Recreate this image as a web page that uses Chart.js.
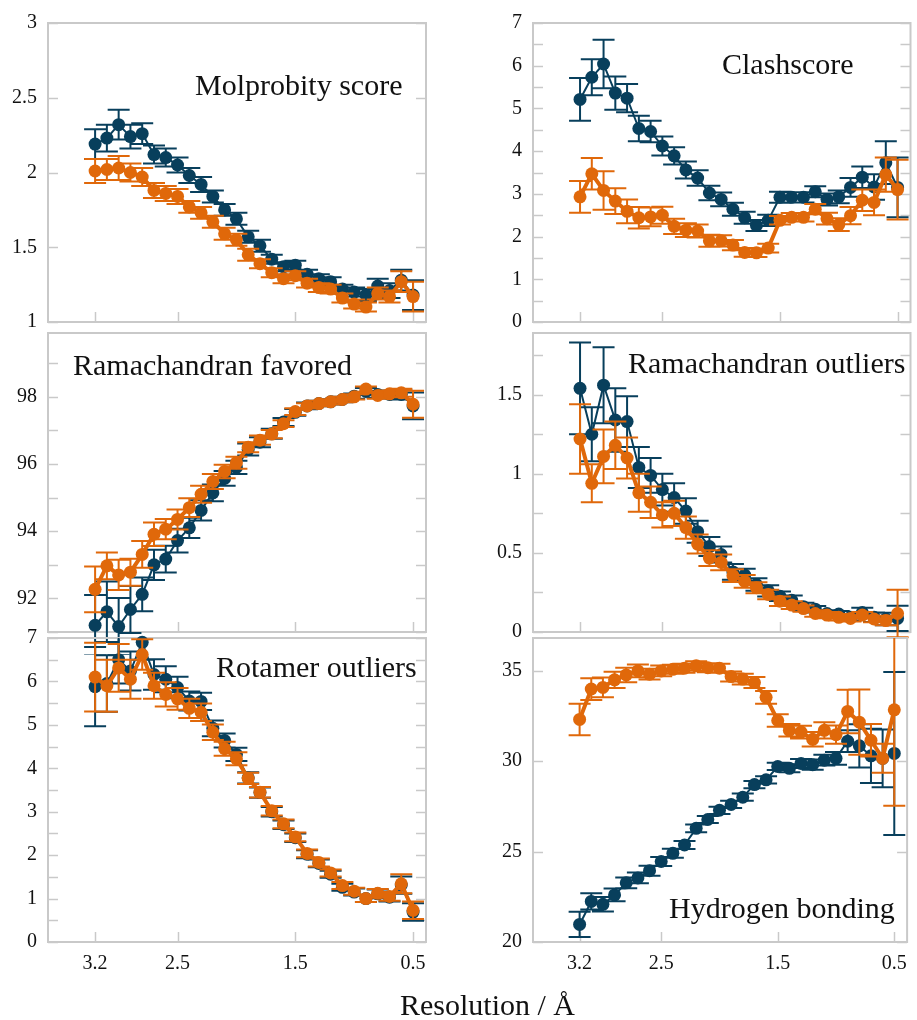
<!DOCTYPE html>
<html>
<head>
<meta charset="utf-8">
<script src="https://cdn.jsdelivr.net/npm/chart.js@4"></script>
<style>
  body { margin: 0; background: #fff; }
  #wrap { position: relative; width: 917px; height: 1020px; overflow: hidden; }
  canvas { position: absolute; }
  .title { position: absolute; font-family: "Liberation Serif", serif; font-size: 30px; line-height: 30px; color: #111; white-space: nowrap; }
</style>
</head>
<body>
<div id="wrap">
  <canvas id="c0"></canvas>
  <canvas id="c1"></canvas>
  <canvas id="c2"></canvas>
  <canvas id="c3"></canvas>
  <canvas id="c4"></canvas>
  <canvas id="c5"></canvas>
  <div class="title" style="left:195px;top:70px">Molprobity score</div>
  <div class="title" style="left:722px;top:49px">Clashscore</div>
  <div class="title" style="left:73px;top:350px">Ramachandran favored</div>
  <div class="title" style="left:628px;top:348px">Ramachandran outliers</div>
  <div class="title" style="left:216px;top:652px">Rotamer outliers</div>
  <div class="title" style="left:669px;top:893px">Hydrogen bonding</div>
  <div class="title" style="left:400px;top:990px">Resolution / Å</div>
</div>
<script>
// resolution bins (Å), plotted high -> low
const resolution = [3.2, 3.1, 3.0, 2.9, 2.8, 2.7, 2.6, 2.5, 2.4, 2.3, 2.2, 2.1, 2.0, 1.9,
                    1.8, 1.7, 1.6, 1.5, 1.4, 1.3, 1.2, 1.1, 1.0, 0.9, 0.8, 0.7, 0.6, 0.5];
const xTickValues = [3.2, 2.5, 1.5, 0.5];

const molprobityBlue = [2.19, 2.23, 2.32, 2.24, 2.26, 2.12, 2.10, 2.05, 1.98, 1.92, 1.84, 1.75, 1.69, 1.57,
                        1.51, 1.42, 1.37, 1.38, 1.32, 1.29, 1.27, 1.22, 1.20, 1.18, 1.24, 1.21, 1.28, 1.18];
const molprobityBlueErr = [0.10, 0.09, 0.10, 0.08, 0.07, 0.06, 0.06, 0.05, 0.05, 0.05, 0.04, 0.04, 0.04, 0.04,
                           0.04, 0.03, 0.03, 0.03, 0.03, 0.03, 0.03, 0.03, 0.03, 0.04, 0.05, 0.05, 0.07, 0.10];
const molprobityOrange = [2.01, 2.02, 2.03, 2.00, 1.97, 1.88, 1.86, 1.84, 1.77, 1.73, 1.67, 1.59, 1.55, 1.45,
                          1.39, 1.33, 1.29, 1.31, 1.26, 1.23, 1.22, 1.16, 1.12, 1.10, 1.19, 1.17, 1.27, 1.17];
const molprobityOrangeErr = [0.08, 0.07, 0.08, 0.06, 0.06, 0.05, 0.05, 0.05, 0.04, 0.04, 0.04, 0.04, 0.04, 0.04,
                             0.03, 0.03, 0.03, 0.03, 0.03, 0.03, 0.03, 0.03, 0.03, 0.03, 0.04, 0.04, 0.07, 0.10];

const clashBlue = [5.21, 5.73, 6.04, 5.36, 5.24, 4.53, 4.46, 4.12, 3.89, 3.56, 3.37, 3.02, 2.87, 2.64,
                   2.44, 2.26, 2.38, 2.92, 2.92, 2.92, 3.05, 2.87, 2.93, 3.15, 3.39, 3.16, 3.73, 3.15];
const clashBlueErr = [0.50, 0.42, 0.57, 0.39, 0.33, 0.30, 0.25, 0.22, 0.20, 0.20, 0.18, 0.17, 0.16, 0.15,
                      0.14, 0.13, 0.13, 0.13, 0.12, 0.12, 0.13, 0.14, 0.15, 0.22, 0.25, 0.30, 0.50, 0.70];
const clashOrange = [2.93, 3.47, 3.08, 2.83, 2.59, 2.44, 2.46, 2.50, 2.24, 2.15, 2.13, 1.90, 1.90, 1.80,
                     1.63, 1.62, 1.73, 2.38, 2.45, 2.45, 2.64, 2.42, 2.28, 2.49, 2.85, 2.80, 3.45, 3.10];
const clashOrangeErr = [0.37, 0.37, 0.45, 0.30, 0.28, 0.25, 0.22, 0.20, 0.18, 0.16, 0.15, 0.14, 0.13, 0.12,
                        0.10, 0.10, 0.10, 0.10, 0.10, 0.10, 0.12, 0.14, 0.15, 0.20, 0.25, 0.30, 0.40, 0.70];

const ramaFavBlue = [91.20, 91.60, 91.16, 91.67, 92.12, 93.00, 93.17, 93.72, 94.10, 94.62, 95.14, 95.57, 95.90, 96.43,
                     96.65, 96.90, 97.25, 97.54, 97.73, 97.80, 97.85, 97.92, 98.02, 98.16, 98.07, 98.07, 98.07, 97.73];
const ramaFavBlueErr = [0.90, 0.90, 0.85, 0.70, 0.50, 0.45, 0.40, 0.35, 0.30, 0.30, 0.25, 0.22, 0.20, 0.18,
                        0.15, 0.15, 0.12, 0.10, 0.10, 0.08, 0.08, 0.08, 0.08, 0.10, 0.10, 0.12, 0.15, 0.40];
const ramaFavOrange = [92.27, 92.97, 92.70, 92.78, 93.31, 93.91, 94.06, 94.35, 94.70, 95.10, 95.48, 95.78, 96.04, 96.50,
                       96.71, 96.89, 97.20, 97.56, 97.73, 97.80, 97.85, 97.92, 98.00, 98.23, 98.04, 98.09, 98.12, 97.78];
const ramaFavOrangeErr = [0.68, 0.40, 0.45, 0.40, 0.40, 0.35, 0.30, 0.30, 0.28, 0.25, 0.22, 0.20, 0.18, 0.15,
                          0.14, 0.12, 0.10, 0.10, 0.08, 0.08, 0.08, 0.08, 0.08, 0.08, 0.10, 0.10, 0.12, 0.40];

const ramaOutBlue = [1.54, 1.25, 1.56, 1.34, 1.33, 1.04, 0.99, 0.90, 0.85, 0.765, 0.634, 0.54, 0.49, 0.38,
                     0.36, 0.30, 0.26, 0.226, 0.20, 0.16, 0.144, 0.117, 0.113, 0.093, 0.123, 0.093, 0.082, 0.086];
const ramaOutBlueErr = [0.29, 0.17, 0.24, 0.20, 0.16, 0.13, 0.11, 0.10, 0.09, 0.08, 0.07, 0.06, 0.05, 0.05,
                        0.04, 0.04, 0.035, 0.03, 0.03, 0.025, 0.02, 0.02, 0.02, 0.02, 0.03, 0.03, 0.04, 0.08];
const ramaOutOrange = [1.22, 0.94, 1.11, 1.18, 1.10, 0.88, 0.82, 0.74, 0.75, 0.66, 0.556, 0.467, 0.44, 0.356,
                       0.32, 0.28, 0.237, 0.195, 0.17, 0.148, 0.117, 0.107, 0.093, 0.086, 0.107, 0.082, 0.072, 0.117];
const ramaOutOrangeErr = [0.22, 0.12, 0.17, 0.15, 0.13, 0.12, 0.10, 0.08, 0.08, 0.07, 0.06, 0.05, 0.05, 0.04,
                          0.04, 0.035, 0.03, 0.03, 0.025, 0.02, 0.02, 0.02, 0.02, 0.02, 0.02, 0.02, 0.03, 0.15];

const rotamerBlue = [5.88, 5.95, 6.50, 6.24, 6.90, 6.16, 6.05, 5.86, 5.55, 5.54, 4.92, 4.64, 4.32, 3.78,
                     3.44, 3.00, 2.70, 2.40, 2.02, 1.81, 1.56, 1.26, 1.15, 1.00, 1.11, 1.03, 1.31, 0.69];
const rotamerBlueErr = [0.91, 0.65, 0.55, 0.45, 0.40, 0.35, 0.30, 0.25, 0.22, 0.20, 0.18, 0.16, 0.15, 0.13,
                        0.12, 0.11, 0.10, 0.10, 0.09, 0.09, 0.08, 0.08, 0.08, 0.08, 0.10, 0.10, 0.20, 0.20];
const rotamerOrange = [6.10, 5.90, 6.31, 6.05, 6.62, 5.90, 5.70, 5.60, 5.38, 5.29, 4.83, 4.45, 4.22, 3.77,
                       3.45, 3.02, 2.72, 2.42, 2.04, 1.83, 1.59, 1.30, 1.17, 1.00, 1.12, 1.05, 1.34, 0.73];
const rotamerOrangeErr = [0.79, 0.60, 0.55, 0.45, 0.35, 0.30, 0.28, 0.25, 0.22, 0.20, 0.18, 0.16, 0.15, 0.13,
                          0.12, 0.11, 0.10, 0.10, 0.09, 0.09, 0.08, 0.08, 0.08, 0.08, 0.10, 0.10, 0.22, 0.20];

const hbondBlue = [20.97, 22.24, 22.08, 22.60, 23.27, 23.54, 23.94, 24.45, 24.90, 25.36, 26.28, 26.77, 27.28, 27.60,
                   28.00, 28.70, 28.96, 29.70, 29.60, 29.87, 29.80, 30.05, 30.15, 31.10, 30.84, 30.29, 30.15, 30.42];
const hbondBlueErr = [0.70, 0.45, 0.40, 0.35, 0.30, 0.30, 0.28, 0.25, 0.25, 0.22, 0.22, 0.20, 0.20, 0.20,
                      0.20, 0.20, 0.20, 0.20, 0.22, 0.25, 0.28, 0.30, 0.35, 0.60, 1.20, 1.50, 1.60, 4.50];
const hbondOrange = [32.30, 33.98, 34.07, 34.49, 34.76, 34.98, 34.80, 34.98, 35.07, 35.13, 35.26, 35.16, 35.13, 34.67,
                     34.53, 34.34, 33.52, 32.24, 31.70, 31.60, 31.20, 31.70, 31.46, 32.74, 32.15, 31.15, 30.15, 32.83];
const hbondOrangeErr = [0.87, 0.60, 0.55, 0.45, 0.40, 0.35, 0.30, 0.30, 0.25, 0.25, 0.25, 0.25, 0.25, 0.28,
                        0.30, 0.30, 0.35, 0.35, 0.35, 0.35, 0.40, 0.45, 0.50, 1.20, 1.80, 0.90, 0.80, 5.30];

const BLUE = '#083f5c';
const ORANGE = '#e0680a';
const FRAME = '#c9c9c9';
const FONT = 'Liberation Serif';

// box + inward ticks + error bars
const framePlugin = {
    id: 'frame',
    beforeDatasetsDraw(chart) {
        const {ctx, chartArea: a, scales} = chart;
        const p = chart.options.plugins.frame;
        ctx.save();
        ctx.strokeStyle = FRAME;
        ctx.lineWidth = 1.5;
        ctx.beginPath();
        for (let v = Math.ceil(p.yMin / p.yStep - 1e-9) * p.yStep; v <= p.yMax + 1e-9; v += p.yStep) {
            const y = Math.round(scales.y.getPixelForValue(v)) + 0.5;
            ctx.moveTo(a.left, y); ctx.lineTo(a.left + 10, y);
            ctx.moveTo(a.right, y); ctx.lineTo(a.right - 10, y);
        }
        xTickValues.forEach(v => {
            const x = Math.round(scales.x.getPixelForValue(v)) + 0.5;
            ctx.moveTo(x, a.bottom); ctx.lineTo(x, a.bottom - 10);
        });
        ctx.stroke();
        ctx.lineWidth = 2;
        ctx.strokeRect(a.left, a.top, a.right - a.left, a.bottom - a.top);
        ctx.restore();
    },
    beforeDatasetDraw(chart, args) {
        const ds = chart.data.datasets[args.index];
        if (!ds.errors) return;
        const {ctx, scales, chartArea: a} = chart;
        ctx.save();
        ctx.strokeStyle = ds.borderColor;
        ctx.lineWidth = 2;
        ctx.beginPath();
        args.meta.data.forEach((pt, i) => {
            const v = ds.data[i].y, e = ds.errors[i];
            const yTop = scales.y.getPixelForValue(v + e);
            const y1 = Math.max(yTop, a.top);
            const y2 = scales.y.getPixelForValue(v - e);
            ctx.moveTo(pt.x, y1); ctx.lineTo(pt.x, y2);
            if (yTop >= a.top) { ctx.moveTo(pt.x - 11, y1); ctx.lineTo(pt.x + 11, y1); }
            ctx.moveTo(pt.x - 11, y2); ctx.lineTo(pt.x + 11, y2);
        });
        ctx.stroke();
        ctx.restore();
    }
};

function series(values, errors, color, width, order) {
    return {
        data: resolution.map((r, i) => ({x: r, y: values[i]})),
        errors: errors,
        borderColor: color,
        backgroundColor: color,
        borderWidth: width,
        pointRadius: 6.5,
        pointBorderWidth: 0,
        clip: false,
        order: order
    };
}

function panel(id, col, row, blue, blueErr, orange, orangeErr, y) {
    const c = document.getElementById(id);
    const left = col === 0 ? 0 : 485;
    const width = col === 0 ? 440 : 432;
    const tops = [0, 310, 615];
    const heights = [345, 345, 375];
    c.width = width; c.height = heights[row];
    c.style.left = left + 'px'; c.style.top = tops[row] + 'px';
    const pads = [{top: 22, bottom: 17}, {top: 19, bottom: 20}, {top: 20, bottom: 0}];
    const xHeight = row === 2 ? 48 : 0;
    new Chart(c, {
        type: 'line',
        data: {
            datasets: [
                series(orange, orangeErr, ORANGE, 4, 1),
                series(blue, blueErr, BLUE, 2, 2)
            ]
        },
        options: {
            responsive: false,
            animation: false,
            devicePixelRatio: 1,
            layout: {padding: {left: 0, right: col === 0 ? 14 : 5, top: pads[row].top, bottom: pads[row].bottom}},
            plugins: {
                legend: {display: false},
                tooltip: {enabled: false},
                frame: {yMin: y.min, yMax: y.max, yStep: y.tickStep}
            },
            scales: {
                x: {
                    type: 'linear',
                    reverse: true,
                    min: 0.39,
                    max: 3.6,
                    display: row === 2,
                    afterBuildTicks: s => { s.ticks = xTickValues.map(v => ({value: v})); },
                    afterFit: s => { s.height = xHeight; },
                    grid: {display: false, drawTicks: false},
                    border: {display: false},
                    ticks: {
                        autoSkip: false,
                        maxRotation: 0,
                        padding: 10,
                        color: '#111',
                        font: {family: FONT, size: 20},
                        callback: v => String(v)
                    }
                },
                y: {
                    min: y.min,
                    max: y.max,
                    afterFit: s => { s.width = 48; },
                    grid: {display: false, drawTicks: false},
                    border: {display: false},
                    ticks: {
                        stepSize: y.tickStep,
                        autoSkip: false,
                        padding: 11,
                        color: '#111',
                        font: {family: FONT, size: 20},
                        callback: v => {
                            const k = v / y.labelStep;
                            return Math.abs(k - Math.round(k)) < 1e-6 ? String(+v.toFixed(2)) : '';
                        }
                    }
                }
            }
        },
        plugins: [framePlugin]
    });
}

function drawAll() {
    Chart.defaults.font.family = FONT;
    panel('c0', 0, 0, molprobityBlue, molprobityBlueErr, molprobityOrange, molprobityOrangeErr,
          {min: 1, max: 3, tickStep: 0.5, labelStep: 0.5});
    panel('c1', 1, 0, clashBlue, clashBlueErr, clashOrange, clashOrangeErr,
          {min: 0, max: 7, tickStep: 0.5, labelStep: 1});
    panel('c2', 0, 1, ramaFavBlue, ramaFavBlueErr, ramaFavOrange, ramaFavOrangeErr,
          {min: 91, max: 99.9, tickStep: 1, labelStep: 2});
    panel('c3', 1, 1, ramaOutBlue, ramaOutBlueErr, ramaOutOrange, ramaOutOrangeErr,
          {min: 0, max: 1.89, tickStep: 0.25, labelStep: 0.5});
    panel('c4', 0, 2, rotamerBlue, rotamerBlueErr, rotamerOrange, rotamerOrangeErr,
          {min: 0, max: 7, tickStep: 0.5, labelStep: 1});
    panel('c5', 1, 2, hbondBlue, hbondBlueErr, hbondOrange, hbondOrangeErr,
          {min: 20, max: 36.8, tickStep: 5, labelStep: 5});
}

document.fonts.load('20px "Liberation Serif"').then(drawAll, drawAll);
</script>
</body>
</html>
